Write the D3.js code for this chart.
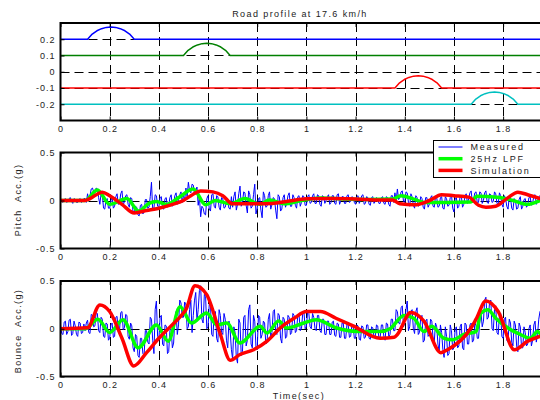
<!DOCTYPE html>
<html>
<head>
<meta charset="utf-8">
<script src="https://cdn.jsdelivr.net/npm/d3@7"></script>
<style>
body { margin: 0; background: #fff; }
svg { display: block; font-family: "Liberation Sans", Arial, sans-serif; }
.tk text { font-size: 9px; letter-spacing: 1px; fill: #222; }
.lbl { font-size: 9px; letter-spacing: 1.4px; fill: #222; }
</style>
</head>
<body>
<svg id="chart" width="540" height="400"></svg>
<script>
// ---- data ----
var xTicks = [0, 0.2, 0.4, 0.6, 0.8, 1, 1.2, 1.4, 1.6, 1.8];
var roadTicks = [-0.2, -0.1, 0, 0.1, 0.2];
var accTicks = [-0.5, 0, 0.5];

// road profile (m) for the four wheels
var road1T = [0, 0.110, 0.129, 0.148, 0.167, 0.186, 0.205, 0.224, 0.243, 0.262, 0.281, 0.300, 1.95];
var road1 = [0.2, 0.2, 0.232, 0.252, 0.265, 0.273, 0.275, 0.273, 0.265, 0.252, 0.232, 0.2, 0.2];
var road2T = [0, 0.500, 0.519, 0.538, 0.557, 0.576, 0.595, 0.614, 0.633, 0.652, 0.671, 0.690, 1.95];
var road2 = [0.1, 0.1, 0.132, 0.152, 0.165, 0.173, 0.175, 0.173, 0.165, 0.152, 0.132, 0.1, 0.1];
var road3T = [0, 1.360, 1.379, 1.398, 1.417, 1.436, 1.455, 1.474, 1.493, 1.512, 1.531, 1.550, 1.95];
var road3 = [-0.1, -0.1, -0.068, -0.048, -0.035, -0.027, -0.025, -0.027, -0.035, -0.048, -0.068, -0.1, -0.1];
var road4T = [0, 1.670, 1.689, 1.708, 1.727, 1.746, 1.765, 1.784, 1.803, 1.822, 1.841, 1.860, 1.95];
var road4 = [-0.2, -0.2, -0.168, -0.148, -0.135, -0.127, -0.125, -0.127, -0.135, -0.148, -0.168, -0.2, -0.2];

// measured acc, one sample per 0.005 s, in 0.01 g (one row = 0.1 s)
var pitchMeasured = [
  1,-1,-2,1,2,-2,-1,2,3,-1,-3,2,1,-2,-2,1,2,-2,-1,2,
  2,-2,7,1,5,12,13,9,8,13,12,3,-4,7,6,-8,-9,0,2,-8,
  -8,0,3,-8,-6,4,7,-4,-3,7,10,-5,-1,5,6,-4,-7,3,2,-12,
  -13,-6,-7,-15,-16,-5,-4,-14,-12,1,1,-8,-7,4,19,-10,-8,6,5,-6,
  -7,3,4,-8,-9,2,3,-7,-5,3,6,-6,-4,5,8,-4,1,6,9,-2,
  6,0,13,4,19,10,8,17,16,6,10,14,-5,4,-17,-6,-8,-14,-15,2,
  5,-9,-11,6,7,-6,-8,5,4,-7,-10,3,2,-8,-7,-1,-1,-8,-9,4,
  -7,4,9,-10,-4,7,15,-6,-2,9,8,-5,-13,10,6,-8,-6,6,17,-14,
  -8,2,3,-10,-18,9,5,-7,-6,5,9,-9,-4,3,2,-10,-19,6,4,-11,
  -9,3,6,-7,-3,5,8,-6,-6,6,3,-5,-8,4,5,-6,-2,5,4,-5,
  -5,4,6,-3,-2,5,7,-3,-3,6,5,-4,-6,5,4,-3,0,4,6,-4,
  -2,5,5,-3,-4,6,7,-4,0,4,4,-3,-3,5,6,-2,-1,4,3,-2,
  -4,4,5,-3,0,5,6,-4,-3,4,3,-4,-5,3,4,-3,-1,3,2,-3,
  -3,3,4,-3,-4,4,3,-4,-6,5,5,-2,8,0,12,1,3,9,10,-1,
  -2,9,8,-2,-6,7,4,-5,-8,5,3,-6,-5,4,2,-7,-9,3,3,-7,
  -4,3,5,-6,-7,4,3,-7,-6,3,4,-8,-9,4,2,-6,-5,3,6,-8,
  -12,2,3,-8,-6,4,5,-7,-4,5,7,-3,2,8,10,-2,1,8,9,-3,
  -2,9,8,-3,0,8,10,-2,-3,7,6,-2,-1,9,7,-3,-4,8,5,-4,
  -7,5,2,-6,-9,4,3,-8,-10,2,0,-9,-8,1,4,-9,-6,1,2,-7,
  -5,3,4,-5,-3,5,6,-4,-1,4,5];
var bounceMeasured = [
  4,-5,-6,7,8,-6,-3,9,10,-7,-5,8,3,-6,-8,7,6,-5,-4,5,
  -2,6,9,-4,-5,15,14,2,3,17,16,-2,-4,12,10,-8,-9,6,5,-12,
  -10,4,6,-9,-8,12,13,-3,-2,17,18,-1,1,15,14,-8,-11,6,3,-20,
  -24,-6,-8,-28,-30,-10,-10,-26,-28,-2,-2,-14,-16,12,10,-12,-26,20,29,-8,
  -12,12,14,-16,-18,4,3,-26,-24,-2,0,-20,-15,10,18,-6,4,30,27,12,
  12,28,25,0,2,20,30,-4,14,30,38,8,20,40,45,10,6,36,34,0,
  2,26,24,-6,-8,16,18,-10,-14,20,14,-4,-6,16,10,-12,-20,8,-2,-22,
  -32,2,-4,-30,-36,10,6,-28,-24,12,14,-18,-12,20,25,-16,-20,14,8,-20,
  -22,14,12,-10,-6,8,6,-16,-14,10,16,-8,-4,18,20,-4,-6,16,14,-10,
  -15,12,10,-10,-8,14,12,-6,-4,16,14,-4,-2,14,15,-2,0,16,18,0,
  2,18,16,2,0,16,12,0,-2,14,14,-2,-4,10,10,-6,-6,8,8,-6,
  -6,7,8,-7,-8,6,5,-9,-9,6,6,-10,-10,5,4,-9,-8,4,3,-10,
  -10,4,3,-11,-12,3,2,-10,-9,4,4,-10,-11,2,1,-9,-8,4,3,-10,
  -9,4,4,-8,-12,6,5,-8,-6,10,10,-2,-2,20,18,6,5,22,24,2,
  6,20,29,-2,2,18,20,0,-5,18,22,-6,-4,12,14,-14,-12,8,10,-8,
  -6,10,8,-10,-14,6,2,-16,-24,4,-4,-22,-30,2,-8,-28,-26,4,-2,-22,
  -20,0,2,-20,-18,2,5,-20,-22,6,4,-16,-16,4,6,-14,-12,6,3,-10,
  -10,8,18,2,8,30,33,10,12,28,30,0,-2,20,24,-4,-6,14,16,-8,
  -10,10,12,-12,-14,10,6,-14,-18,8,4,-18,-24,6,2,-20,-20,2,-4,-18,
  -16,0,4,-18,-12,4,8,-14,-6,10,18];

// 25Hz low pass filtered
var pitchLpfT = [0, 0.1, 0.15, 0.2, 0.27, 0.318, 0.36, 0.39, 0.43, 0.48, 0.54, 0.59, 0.63, 0.69, 0.75, 0.81, 0.85, 0.91, 0.98, 1.06, 1.15, 1.25, 1.35, 1.384, 1.437, 1.48, 1.57, 1.667, 1.694, 1.776, 1.84, 1.897, 1.95];
var pitchLpf = [0, 0, 0.11, -0.04, 0.02, -0.11, -0.03, -0.01, -0.04, 0.03, 0.12, -0.045, 0.0, -0.035, 0.02, -0.04, 0.005, -0.035, 0.0, 0.025, 0.015, 0.01, 0.015, 0.05, 0.015, -0.02, -0.02, -0.015, 0.045, 0.035, 0.0, -0.04, 0.0];
var bounceLpfT = [0, 0.1, 0.152, 0.2, 0.254, 0.316, 0.39, 0.438, 0.486, 0.533, 0.594, 0.636, 0.676, 0.73, 0.812, 0.84, 0.887, 0.92, 0.99, 1.04, 1.12, 1.22, 1.3, 1.34, 1.397, 1.437, 1.478, 1.51, 1.56, 1.595, 1.64, 1.69, 1.71, 1.738, 1.77, 1.82, 1.87, 1.91, 1.94, 1.95];
var bounceLpf = [0, 0, 0.1, -0.04, 0.095, -0.2, 0.04, -0.13, 0.23, 0.06, 0.165, 0.04, 0.06, -0.15, 0.025, -0.045, 0.08, 0.007, 0.06, 0.095, 0.01, -0.03, -0.03, 0, 0.14, 0.11, -0.03, 0.025, -0.1, -0.115, -0.06, -0.03, 0.165, 0.2, 0.11, 0.007, -0.06, -0.1, -0.03, -0.05];

// simulation
var pitchSimT = [0, 0.1, 0.12, 0.17, 0.2, 0.25, 0.3, 0.35, 0.4, 0.45, 0.5, 0.53, 0.57, 0.62, 0.66, 0.7, 0.8, 0.86, 0.93, 1.0, 1.1, 1.2, 1.3, 1.35, 1.38, 1.44, 1.5, 1.55, 1.6, 1.66, 1.7, 1.73, 1.77, 1.82, 1.86, 1.9, 1.95];
var pitchSim = [0, 0, 0.02, 0.087, 0.05, -0.04, -0.13, -0.105, -0.08, -0.045, 0.0, 0.05, 0.1, 0.09, 0.05, -0.035, -0.035, -0.03, -0.005, 0.017, 0.02, 0.015, 0.005, 0.005, -0.035, -0.045, 0.0, 0.06, 0.05, 0.035, -0.05, -0.07, -0.06, 0.03, 0.087, 0.06, 0.02];
var bounceSimT = [0, 0.11, 0.16, 0.2, 0.25, 0.298, 0.35, 0.4, 0.45, 0.5, 0.51, 0.547, 0.594, 0.649, 0.69, 0.73, 0.785, 0.84, 0.894, 0.95, 1.0, 1.057, 1.12, 1.19, 1.3, 1.357, 1.37, 1.424, 1.478, 1.547, 1.574, 1.67, 1.69, 1.73, 1.78, 1.846, 1.9, 1.95];
var bounceSim = [0, 0.01, 0.25, 0.18, -0.1, -0.39, -0.25, -0.1, 0.03, 0.165, 0.2, 0.45, 0.36, -0.05, -0.33, -0.27, -0.22, -0.13, 0.01, 0.11, 0.18, 0.18, 0.11, 0.03, -0.1, -0.09, -0.06, 0.17, 0.08, -0.25, -0.22, 0.01, 0.1, 0.29, 0.18, -0.22, -0.13, -0.08];

// sample times of the measured signal
var measT = d3.range(pitchMeasured.length).map(function(i) { return i / 200; });

// ---- layout ----
var svg = d3.select("#chart");
var x = d3.scaleLinear().domain([0, 1.95]).range([60.5, 540]);
var yRoad = d3.scaleLinear().domain([-0.3, 0.3]).range([120.5, 23]);
var yPitch = d3.scaleLinear().domain([-0.5, 0.5]).range([248.5, 152.5]);
var yBounce = d3.scaleLinear().domain([-0.5, 0.5]).range([376.5, 281]);

function panel(y, yTicks, id) {
  var top = y.range()[1], bot = y.range()[0];
  var g = svg.append("g");
  g.append("clipPath").attr("id", id)
    .append("rect").attr("x", 60.5).attr("y", top).attr("width", 480).attr("height", bot - top);

  // dashed grid
  g.selectAll("line.vg").data(xTicks.slice(1)).enter().append("line")
    .attr("x1", function(d) { return Math.round(x(d)) + 0.5; })
    .attr("x2", function(d) { return Math.round(x(d)) + 0.5; })
    .attr("y1", top).attr("y2", bot)
    .attr("stroke", "#000").attr("stroke-dasharray", "9,5");
  g.selectAll("line.hg").data(yTicks.filter(function(d) { return y(d) > top + 2 && y(d) < bot - 2; }))
    .enter().append("line")
    .attr("x1", 60.5).attr("x2", 540)
    .attr("y1", function(d) { return Math.round(y(d)) + 0.5; })
    .attr("y2", function(d) { return Math.round(y(d)) + 0.5; })
    .attr("stroke", "#000").attr("stroke-dasharray", "9,5");

  var plot = g.append("g").attr("clip-path", "url(#" + id + ")");
  var axes = svg.append("g");
  return { g: g, plot: plot, axes: axes, top: top, bot: bot, y: y, yTicks: yTicks };
}

function drawAxes(p) {
  var a = p.axes;
  a.append("g").attr("class", "tk").attr("transform", "translate(0," + p.bot + ")")
    .call(d3.axisBottom(x).tickValues(xTicks).tickSize(-4).tickPadding(5).tickFormat(String))
    .select(".domain").remove();
  a.append("g").attr("class", "tk").attr("transform", "translate(0," + p.top + ")")
    .call(d3.axisTop(x).tickValues(xTicks).tickSize(-4).tickFormat(""))
    .select(".domain").remove();
  a.append("g").attr("class", "tk").attr("transform", "translate(60.5,0)")
    .call(d3.axisLeft(p.y).tickValues(p.yTicks).tickSize(-4).tickPadding(5).tickFormat(String))
    .select(".domain").remove();
  a.selectAll(".tick line").attr("stroke", "#000");
  a.append("rect")
    .attr("x", 60.5).attr("y", p.top).attr("width", 490).attr("height", p.bot - p.top)
    .attr("fill", "none").attr("stroke", "#000").attr("stroke-width", 2);
}

function addLine(p, ts, vs, color, w, curve, scaleBy) {
  var k = scaleBy || 1;
  var line = d3.line()
    .x(function(d) { return x(d[0]); })
    .y(function(d) { return p.y(d[1] * k); })
    .curve(curve || d3.curveLinear);
  p.plot.append("path")
    .datum(d3.zip(ts, vs))
    .attr("fill", "none")
    .attr("stroke", color)
    .attr("stroke-width", w)
    .attr("stroke-linejoin", "round")
    .attr("stroke-linecap", "round")
    .attr("d", line);
}

// ---- road profile ----
var p1 = panel(yRoad, roadTicks, "c1");
addLine(p1, road1T, road1, "#0000ff", 1.5);
addLine(p1, road2T, road2, "#008000", 1.5);
addLine(p1, road3T, road3, "#ff0000", 1.5);
addLine(p1, road4T, road4, "#00c0c0", 1.5);
drawAxes(p1);

svg.append("text").attr("class", "lbl")
  .attr("x", 300).attr("y", 16.5).attr("text-anchor", "middle")
  .text("Road profile at 17.6 km/h");

// ---- pitch ----
var p2 = panel(yPitch, accTicks, "c2");
addLine(p2, measT, pitchMeasured, "#0000ff", 1, d3.curveLinear, 0.01);
addLine(p2, pitchLpfT, pitchLpf, "#00ff00", 3.5, d3.curveMonotoneX);
addLine(p2, pitchSimT, pitchSim, "#ff0000", 3.5, d3.curveMonotoneX);
drawAxes(p2);

// ---- bounce ----
var p3 = panel(yBounce, accTicks, "c3");
addLine(p3, measT, bounceMeasured, "#0000ff", 1, d3.curveLinear, 0.01);
addLine(p3, bounceLpfT, bounceLpf, "#00ff00", 3.5, d3.curveMonotoneX);
addLine(p3, bounceSimT, bounceSim, "#ff0000", 3.5, d3.curveMonotoneX);
drawAxes(p3);

// axis labels
svg.append("text").attr("class", "lbl").style("white-space", "pre")
  .attr("transform", "translate(21,200) rotate(-90)").attr("text-anchor", "middle")
  .text("Pitch  Acc.(g)");
svg.append("text").attr("class", "lbl").style("white-space", "pre")
  .attr("transform", "translate(21,331) rotate(-90)").attr("text-anchor", "middle")
  .text("Bounce  Acc.(g)");
svg.append("text").attr("class", "lbl")
  .attr("x", 299).attr("y", 398.5).attr("text-anchor", "middle")
  .text("Time(sec)");

// ---- legend ----
var legendNames = ["Measured", "25Hz LPF", "Simulation"];
var legendColors = ["#0000ff", "#00ff00", "#ff0000"];
var legendWidths = [1, 3.5, 3.5];
var lg = svg.append("g").attr("transform", "translate(433.5,140.5)");
lg.append("rect").attr("width", 120).attr("height", 37)
  .attr("fill", "#fff").attr("stroke", "#000");
legendNames.forEach(function(n, i) {
  var yy = 6.5 + i * 11.7;
  lg.append("line").attr("x1", 5).attr("x2", 29).attr("y1", yy).attr("y2", yy)
    .attr("stroke", legendColors[i]).attr("stroke-width", legendWidths[i]);
  lg.append("text").attr("class", "lbl").style("letter-spacing", "1.8px")
    .attr("x", 37).attr("y", yy + 3.3).text(n);
});
</script>
</body>
</html>
